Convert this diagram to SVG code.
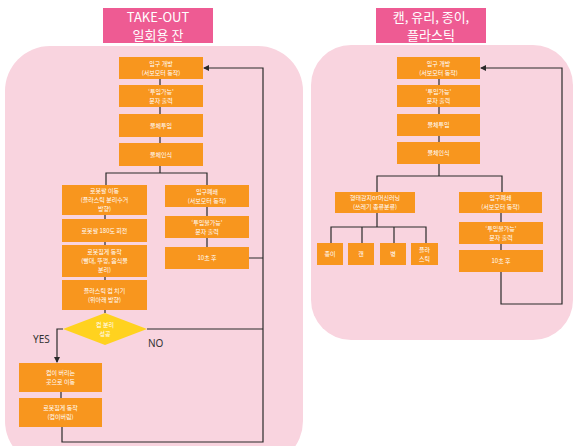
<svg xmlns="http://www.w3.org/2000/svg" width="581" height="446" viewBox="0 0 581 446">
<style>
.panel{fill:#F9D4DF}
.title{fill:#EE5B93}
.tt{fill:#fff;font-family:"Noto Sans CJK KR","Noto Sans",sans-serif;font-size:13px;text-anchor:middle}
.n rect{fill:#F8961E}
.n text,.d text{fill:#fff;font-family:"Noto Sans CJK KR","Noto Sans",sans-serif;font-size:6px;text-anchor:middle}
.d polygon{fill:#FFD21F}
.c path{fill:none;stroke:#2a2a2a;stroke-width:1.2}
.lbl{fill:#333;font-family:"Noto Sans","Liberation Sans",sans-serif;font-size:10px}
</style>
<defs>
<marker id="ah" viewBox="0 0 6 6" refX="5" refY="3" markerWidth="5" markerHeight="5" orient="auto">
<path d="M0,0 L6,3 L0,6 z" fill="#2a2a2a"/>
</marker>
</defs>
<rect width="581" height="446" fill="#fff"/>
<rect class="panel" x="5" y="46" width="298" height="420" rx="45"/>
<rect class="panel" x="311" y="45" width="262" height="295" rx="40"/>
<g id="title-left"><rect class="title" x="103" y="8" width="110" height="35"/><text class="tt" x="158" y="21.5">TAKE-OUT</text><text class="tt" x="158" y="40">일회용 잔</text></g>
<g id="title-right"><rect class="title" x="376" y="8" width="110" height="35"/><text class="tt" x="431" y="21.5">캔, 유리, 종이,</text><text class="tt" x="431" y="40">플라스틱</text></g>
<g class="c" id="connectors">
<path d="M160,79V85M160,107V114M160,137V143M160,166V173M106,185V173H207V185M105,215V219M105,242V245M105,277V280M105,310V313M207,207V216M207,238V247M249,258H263M147,329H263M61,392V398"/>
<path d="M62,427V442H263V68H204" marker-end="url(#ah)"/>
<path d="M63,329H57V362" marker-end="url(#ah)"/>
<path d="M439,79V85M439,107V114M439,136V142M439,164V176M377,192V176H502V192M501,213V222M501,244V250M377,213V227M331,243V227H426V243M362,227V243M394,227V243"/>
<path d="M501,272V304H562V68H481" marker-end="url(#ah)"/>
</g>
<g class="n" id="n1"><rect x="119" y="57" width="84" height="22"/><text x="161" y="65.5">입구 개방</text><text x="161" y="74.5">(서보모터 동작)</text></g>
<g class="n" id="n2"><rect x="119" y="85" width="84" height="22"/><text x="161" y="93.5">‘투입가능’</text><text x="161" y="102.5">문자 출력</text></g>
<g class="n" id="n3"><rect x="119" y="114" width="84" height="23"/><text x="161" y="127.5">물체투입</text></g>
<g class="n" id="n4"><rect x="119" y="143" width="84" height="23"/><text x="161" y="156.5">물체인식</text></g>
<g class="n" id="n5"><rect x="62" y="185" width="85" height="30"/><text x="104.5" y="193">로봇팔 이동</text><text x="104.5" y="202">(플라스틱 분리수거</text><text x="104.5" y="211">방향)</text></g>
<g class="n" id="n6"><rect x="165" y="185" width="84" height="22"/><text x="207" y="193.5">입구폐쇄</text><text x="207" y="202.5">(서보모터 동작)</text></g>
<g class="n" id="n7"><rect x="62" y="219" width="85" height="23"/><text x="104.5" y="232.5">로봇팔 180도 회전</text></g>
<g class="n" id="n8"><rect x="165" y="216" width="84" height="22"/><text x="207" y="224.5">‘투입불가능’</text><text x="207" y="233.5">문자 출력</text></g>
<g class="n" id="n9"><rect x="62" y="245" width="85" height="32"/><text x="104.5" y="254">로봇집게 동작</text><text x="104.5" y="263">(빨대, 뚜껑, 음식물</text><text x="104.5" y="272">분리)</text></g>
<g class="n" id="n10"><rect x="165" y="247" width="84" height="22"/><text x="207" y="260">10초 후</text></g>
<g class="n" id="n11"><rect x="62" y="280" width="85" height="30"/><text x="104.5" y="292.5">플라스틱 컵 치기</text><text x="104.5" y="301.5">(위아래 방향)</text></g>
<g class="d" id="n-decision"><polygon points="105,313 147,329 105,345 63,329"/><text x="105" y="326.5">컵 분리</text><text x="105" y="335.5">성공</text></g>
<g class="n" id="n12"><rect x="19" y="363" width="83" height="29"/><text x="60.5" y="375">컵이 버리는</text><text x="60.5" y="384">곳으로 이동</text></g>
<g class="n" id="n13"><rect x="19" y="398" width="83" height="29"/><text x="60.5" y="410">로봇집게 동작</text><text x="60.5" y="419">(컵이버림)</text></g>
<text class="lbl" x="33" y="343">YES</text>
<text class="lbl" x="148" y="347">NO</text>
<g class="n" id="r1"><rect x="397" y="57" width="83" height="22"/><text x="438.5" y="65.5">입구 개방</text><text x="438.5" y="74.5">(서보모터 동작)</text></g>
<g class="n" id="r2"><rect x="397" y="85" width="83" height="22"/><text x="438.5" y="93.5">‘투입가능’</text><text x="438.5" y="102.5">문자 출력</text></g>
<g class="n" id="r3"><rect x="397" y="114" width="83" height="22"/><text x="438.5" y="127">물체투입</text></g>
<g class="n" id="r4"><rect x="397" y="142" width="83" height="22"/><text x="438.5" y="155">물체인식</text></g>
<g class="n" id="r5"><rect x="335" y="192" width="80" height="21"/><text x="375" y="200">형태감지or머신러닝</text><text x="375" y="209">(쓰레기 종류분류)</text></g>
<g class="n" id="r6"><rect x="459" y="192" width="83" height="21"/><text x="500.5" y="200">입구폐쇄</text><text x="500.5" y="209">(서보모터 동작)</text></g>
<g class="n" id="r7"><rect x="459" y="222" width="84" height="22"/><text x="501" y="230.5">‘투입불가능’</text><text x="501" y="239.5">문자 출력</text></g>
<g class="n" id="r8"><rect x="459" y="250" width="84" height="22"/><text x="501" y="263">10초 후</text></g>
<g class="n" id="s1"><rect x="317" y="243" width="26" height="22"/><text x="330" y="256">종이</text></g>
<g class="n" id="s2"><rect x="348" y="243" width="26" height="22"/><text x="361" y="256">캔</text></g>
<g class="n" id="s3"><rect x="380" y="243" width="26" height="22"/><text x="393" y="256">병</text></g>
<g class="n" id="s4"><rect x="411" y="243" width="27" height="22"/><text x="424.5" y="251.5">플라</text><text x="424.5" y="260.5">스틱</text></g>
</svg>
